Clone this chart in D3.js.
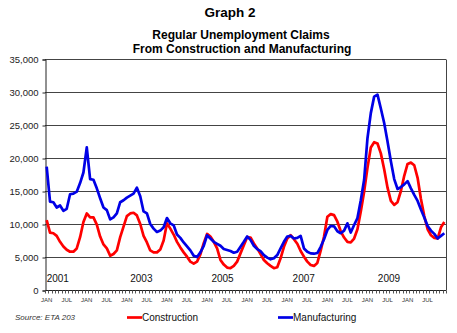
<!DOCTYPE html>
<html>
<head>
<meta charset="utf-8">
<script src="https://cdn.jsdelivr.net/npm/d3@7"></script>
<style>
  html, body { margin: 0; padding: 0; background: #fff; }
  svg { display: block; font-family: "Liberation Sans", Arial, sans-serif; }
</style>
</head>
<body>
<svg id="chart" width="457" height="333"></svg>
<script>
// ---- Data (monthly, Jan 2001 - Dec 2010) ----
const months = ["JAN","FEB","MAR","APR","MAY","JUN","JUL","AUG","SEP","OCT","NOV","DEC"];
const years = [2001,2002,2003,2004,2005,2006,2007,2008,2009,2010];
const yTicks = [0,5000,10000,15000,20000,25000,30000,35000];
const yearLabels = ["2001","2003","2005","2007","2009"];
const yearLabelMonth = [0, 25, 49.3, 73.6, 99.1];
const seriesNames = ["Construction","Manufacturing"];

const construction = [
  10600,8700,8600,8200,7300,6600,6100,5800,5800,6300,8000,10300,
  11600,11000,11000,9900,8100,6900,6300,5200,5450,6000,8000,9600,
  11200,11600,11700,11300,10000,8200,7200,6000,5700,5700,6150,7500,
  10100,9300,8400,7300,6450,5700,5050,4300,4000,4300,5400,7100,
  8500,8100,7300,6300,4550,3850,3400,3300,3650,4300,5550,6800,
  8000,7950,7050,6300,5450,4550,4050,3650,3300,3450,4800,6550,
  7800,8300,7700,7000,5900,5050,4300,3800,3650,4100,5950,8100,
  11100,11500,11350,10350,8900,7950,7300,7200,7800,9200,11900,14900,
  18500,21600,22400,22200,20700,18300,15500,13500,12900,13300,15000,17300,
  19100,19300,18900,17000,13800,11200,9200,8300,7900,7800,9500,10300
];
const manufacturing = [
  18700,13400,13300,12500,12800,12000,12300,14500,14600,14900,16200,17800,
  21600,16800,16700,15400,13900,12500,12100,10700,11000,11600,13300,13600,
  14000,14300,14600,15500,14200,11900,11600,10000,9300,8800,9000,9500,
  10900,10100,9800,8400,7900,7200,6600,6000,5200,5000,5700,6700,
  8300,7800,7300,7000,6700,6200,6050,5900,5650,5800,6550,7300,
  8100,7600,6700,6200,5900,5300,4900,4650,4800,5300,6300,7300,
  8100,8200,7800,7900,8200,6300,5800,5550,5500,5600,6550,7700,
  9100,9700,9650,8900,8600,9000,10100,8700,9850,10900,13600,16700,
  23000,26800,29300,29600,27500,25300,22500,19500,16800,15300,15600,16000,
  16500,15400,14400,13500,12200,11000,9700,9000,8500,7800,8200,8600
];

// ---- Layout ----
const svg = d3.select("#chart");
const L = 45, R = 446, T = 59, B = 290;
const nCat = construction.length;
const x = d3.scaleLinear().domain([0, nCat]).range([L, R]);
const y = d3.scaleLinear().domain([0, 35000]).range([B, T]);

// Titles
svg.append("text").attr("x", 230).attr("y", 17).attr("text-anchor","middle")
  .attr("font-size", 13.5).attr("font-weight","bold").text("Graph 2");
svg.append("text").attr("x", 241).attr("y", 39).attr("text-anchor","middle")
  .attr("font-size", 12).attr("font-weight","bold").text("Regular Unemployment Claims");
svg.append("text").attr("x", 242).attr("y", 53).attr("text-anchor","middle")
  .attr("font-size", 12).attr("font-weight","bold").text("From Construction and Manufacturing");

// Gridlines
svg.append("g").selectAll("line").data(yTicks.filter(d => d > 0)).join("line")
  .attr("x1", L).attr("x2", R)
  .attr("y1", d => Math.round(y(d)) + 0.5).attr("y2", d => Math.round(y(d)) + 0.5)
  .attr("stroke", "#444").attr("stroke-width", 1);

// Right border
svg.append("line").attr("x1", R + 0.5).attr("x2", R + 0.5)
  .attr("y1", Math.round(y(35000)) + 0.5).attr("y2", B + 0.5)
  .attr("stroke", "#444").attr("stroke-width", 1);

// Y axis
const yAxis = d3.axisLeft(y).tickValues(yTicks).tickSize(3).tickPadding(4)
  .tickFormat(d3.format(","));
const gy = svg.append("g").attr("transform", `translate(${L + 0.5},0.5)`).call(yAxis);
gy.select(".domain").attr("stroke", "#222");
gy.selectAll(".tick line").attr("stroke", "#222");
gy.selectAll("text").attr("font-size", 9.5).attr("fill", "#222")
  .attr("font-family", "'Liberation Sans', Arial, sans-serif");

// X axis: minor monthly ticks at category boundaries
const gx = svg.append("g").attr("transform", `translate(0,${B + 0.5})`);
gx.append("line").attr("x1", L).attr("x2", R).attr("stroke", "#222");
gx.selectAll("line.tk").data(d3.range(0, nCat + 1)).join("line").attr("class","tk")
  .attr("x1", d => Math.round(x(d)) + 0.5).attr("x2", d => Math.round(x(d)) + 0.5)
  .attr("y1", 0).attr("y2", 3).attr("stroke", "#555");
// Month labels every 6 months
gx.selectAll("text").data(d3.range(0, nCat, 6)).join("text")
  .attr("x", d => x(d + 0.5)).attr("y", 11).attr("text-anchor","middle")
  .attr("font-size", 6).attr("fill", "#333")
  .text(d => months[d % 12]);

// Year labels
svg.append("g").selectAll("text").data(yearLabels).join("text")
  .attr("x", (d, i) => x(yearLabelMonth[i] + 0.5)).attr("y", 282)
  .attr("font-size", 10).attr("fill", "#111").text(d => d);

// Lines
const line = d3.line().x((d, i) => x(i + 0.5)).y(d => y(d));
svg.append("path").datum(construction).attr("d", line)
  .attr("fill","none").attr("stroke","#ff0000").attr("stroke-width", 2.7)
  .attr("stroke-linejoin","round");
svg.append("path").datum(manufacturing).attr("d", line)
  .attr("fill","none").attr("stroke","#0000e6").attr("stroke-width", 2.7)
  .attr("stroke-linejoin","round");

// Source
svg.append("text").attr("x", 15).attr("y", 320).attr("font-size", 8)
  .attr("font-style","italic").attr("fill","#333").text("Source: ETA 203");

// Legend
const legend = [
  {name: seriesNames[0], color: "#ff0000", x0: 127},
  {name: seriesNames[1], color: "#0000e6", x0: 278}
];
const lg = svg.append("g");
legend.forEach(d => {
  lg.append("line").attr("x1", d.x0).attr("x2", d.x0 + 15).attr("y1", 317.5).attr("y2", 317.5)
    .attr("stroke", d.color).attr("stroke-width", 2.7);
  lg.append("text").attr("x", d.x0 + 15).attr("y", 321).attr("font-size", 10)
    .attr("fill","#111").text(d.name);
});
</script>
</body>
</html>
